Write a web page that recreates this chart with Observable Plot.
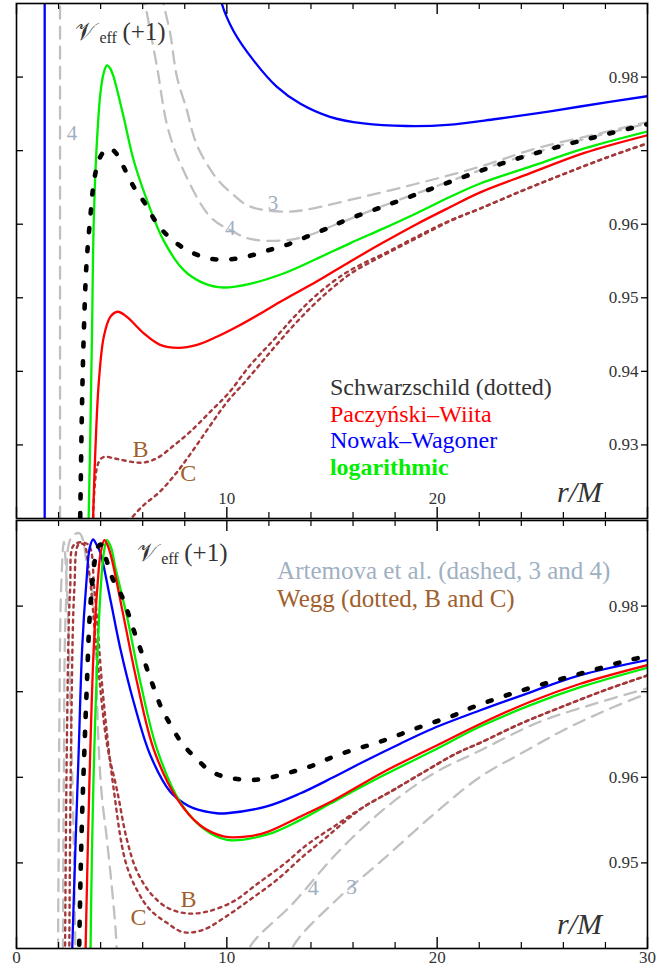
<!DOCTYPE html>
<html><head><meta charset="utf-8">
<script src="https://cdn.jsdelivr.net/npm/d3@7"></script>
<script src="https://cdn.jsdelivr.net/npm/@observablehq/plot@0.6"></script>
<style>
body{margin:0;background:#fff;}
#chart svg{display:block;}
</style></head><body><div id="chart"></div>
<script>
// ---------- axes / ticks ----------
const xDomain = [0, 30];
const xMajor = [0, 10, 20, 30];
const xMinor = [2, 4, 6, 8, 12, 14, 16, 18, 22, 24, 26, 28];
const topDomain = [0.92, 0.99];
const topYTicks = [0.93, 0.94, 0.95, 0.96, 0.97, 0.98];
const topYLabels = [0.93, 0.94, 0.95, 0.96, 0.98];
const topXLabels = [10, 20];
const botDomain = [0.94, 0.99];
const botYTicks = [0.95, 0.96, 0.97, 0.98];
const botYLabels = [0.95, 0.96, 0.98];
const botXLabels = [0, 10, 20, 30];

// ---------- top panel series [r/M, V_eff+1] ----------
const topSchwarzschild = [[3.0,0.915],[3.04,0.9221],[3.12,0.9361],[3.2,0.9452],[3.32,0.9542],[3.51,0.961],[3.67,0.9655],[3.91,0.9687],[4.2,0.97],[4.46,0.9703],[4.8,0.9694],[5.09,0.9678],[5.57,0.9651],[6.12,0.9628],[6.68,0.9601],[7.31,0.9581],[8.1,0.9565],[9.05,0.9554],[10.0,0.9552],[10.95,0.9556],[11.9,0.9564],[12.85,0.9572],[13.8,0.9583],[14.75,0.9594],[15.7,0.9606],[17.43,0.9624],[19.33,0.9644],[21.23,0.9664],[23.13,0.9683],[25.98,0.9707],[27.87,0.9721],[30,0.9736]];
const topPW = [[3.6,0.915],[3.64,0.92],[3.75,0.9293],[3.91,0.9384],[4.15,0.9447],[4.46,0.9474],[4.81,0.9481],[5.25,0.9474],[6.04,0.9452],[6.83,0.9436],[7.7,0.9432],[8.58,0.9436],[9.52,0.9447],[10.5,0.9461],[11.5,0.9477],[12.69,0.9497],[14.27,0.9522],[15.85,0.9549],[17.43,0.9575],[19.02,0.96],[20.6,0.9623],[22.02,0.9643],[24.4,0.9669],[27,0.9697],[30,0.9721]];
const topLog = [[3.4,0.915],[3.43,0.92],[3.51,0.9316],[3.59,0.9452],[3.67,0.96],[3.8,0.97],[3.99,0.9778],[4.15,0.9806],[4.3,0.9816],[4.45,0.9812],[4.62,0.98],[5.09,0.9746],[5.57,0.9687],[6.2,0.9633],[6.99,0.9578],[7.94,0.9538],[8.89,0.952],[9.84,0.9514],[11.1,0.9519],[12.69,0.9533],[14.27,0.9553],[15.85,0.9574],[17.43,0.9594],[19.02,0.9615],[20.6,0.9637],[22.02,0.9655],[24.4,0.9678],[27,0.9703],[30,0.9726]];
const topNWinner = [[1.34,0.995],[1.34,0.915]];
const topNWouter = [[9.6,0.9925],[9.76,0.99],[10.31,0.9863],[11.26,0.9823],[12.37,0.9787],[13.48,0.9764],[14.9,0.9746],[16.5,0.9737],[18.54,0.97335],[20.5,0.9735],[22.8,0.9743],[24.8,0.9751],[26.8,0.976],[30,0.9774]];
const topArt4inner = [[2.07,0.995],[2.07,0.915]];
const topArt4outer = [[6.05,0.9915],[6.12,0.99],[6.68,0.9814],[7.2,0.973],[7.94,0.9673],[9.21,0.961],[10.16,0.9592],[11.1,0.958],[12.69,0.9578],[13.8,0.9584],[15.22,0.96],[17.43,0.9625],[19.33,0.9645],[21.23,0.9665],[23.13,0.9684],[25.98,0.9708],[27.87,0.9722],[30,0.9737]];
const topArt3outer = [[6.9,0.9915],[6.99,0.99],[7.31,0.9859],[7.63,0.98],[8.1,0.9755],[8.34,0.9728],[8.65,0.9703],[9.52,0.9662],[10.31,0.964],[11.1,0.9624],[12.69,0.9617],[13.64,0.9619],[15.85,0.9633],[19.02,0.9655],[22.02,0.9678],[24.7,0.9703],[27.5,0.9722],[30,0.9739]];
const topWeggB = [[3.58,0.912],[3.62,0.918],[3.72,0.9245],[3.85,0.9272],[4.0,0.9281],[4.22,0.9284],[4.6,0.9282],[4.94,0.928],[5.57,0.92765],[6.04,0.9276],[6.68,0.9282],[7.47,0.9299],[8.26,0.9318],[9.21,0.9345],[10.1,0.9371],[11.1,0.9408],[12.2,0.9442],[13.2,0.9474],[14.27,0.9504],[15.5,0.9531],[16.5,0.9547],[17.4,0.9559],[19.02,0.9583],[20.6,0.9605],[22.02,0.9621],[24,0.9645],[26,0.9668],[28,0.969],[30,0.971]];
const topWeggC = [[5.3,0.9195],[6.0,0.9217],[6.8,0.9236],[7.6,0.9262],[8.4,0.9293],[9.2,0.9326],[10.0,0.9358],[11.0,0.939],[12.0,0.9424],[13.0,0.9457],[14.0,0.9487],[15.0,0.9513],[16.0,0.9535],[17.0,0.9551],[18.0,0.9566],[19.02,0.9581],[20.6,0.9604],[22.02,0.9621],[24,0.9645],[26,0.9668],[28,0.969],[30,0.971]];

// ---------- bottom panel series ----------
const botSchwarzschild = [[2.95,0.936],[3.04,0.9478],[3.12,0.9556],[3.23,0.9633],[3.35,0.9711],[3.48,0.9788],[3.67,0.9843],[3.85,0.9868],[4.0,0.9872],[4.3,0.9852],[4.62,0.9829],[5.0,0.9812],[5.25,0.9796],[5.57,0.9772],[5.89,0.975],[6.2,0.9727],[6.52,0.9705],[6.91,0.968],[7.31,0.9662],[7.86,0.964],[8.58,0.9621],[9.3,0.9606],[10.24,0.9599],[11.26,0.9597],[12.29,0.9601],[13.2,0.9607],[14.11,0.9614],[15.06,0.9624],[16.0,0.9632],[16.96,0.9639],[17.91,0.9647],[18.86,0.9656],[19.8,0.9664],[20.75,0.9672],[21.7,0.9682],[23.45,0.9697],[25.34,0.9711],[27.24,0.9724],[29.3,0.9738],[30,0.9741]];
const botPW = [[3.25,0.936],[3.39,0.9517],[3.51,0.9633],[3.67,0.975],[3.86,0.9827],[4.0,0.9862],[4.18,0.9877],[4.35,0.987],[4.54,0.9854],[5.09,0.9788],[5.73,0.9711],[6.52,0.9633],[7.63,0.9575],[8.73,0.9544],[9.84,0.9531],[11.0,0.9531],[11.9,0.9536],[13.48,0.9554],[15.06,0.9573],[17.43,0.9606],[19.8,0.9635],[22.02,0.9662],[24.4,0.9688],[26.77,0.9709],[30,0.9731]];
const botLog = [[3.5,0.936],[3.59,0.9517],[3.7,0.9633],[3.86,0.975],[4.02,0.9827],[4.15,0.9862],[4.3,0.9877],[4.5,0.9868],[4.7,0.9845],[5.25,0.9788],[5.89,0.9711],[6.68,0.9633],[7.78,0.9571],[8.89,0.954],[10.0,0.9527],[11.9,0.9533],[13.48,0.955],[14.9,0.9569],[17.43,0.9602],[19.8,0.9631],[22.02,0.9659],[24.4,0.9684],[26.77,0.9705],[30,0.9728]];
const botNW = [[2.6,0.936],[2.8,0.9517],[2.96,0.9633],[3.12,0.975],[3.32,0.9827],[3.48,0.9868],[3.64,0.9878],[3.8,0.9872],[3.99,0.9862],[4.46,0.9808],[4.94,0.975],[5.57,0.9688],[6.36,0.9626],[7.31,0.9583],[7.94,0.957],[8.41,0.9564],[9.52,0.9558],[10.0,0.9558],[11.9,0.9566],[13.48,0.9581],[15.06,0.96],[16.64,0.962],[18.22,0.9639],[19.8,0.9657],[22.02,0.9678],[24.4,0.9699],[26.77,0.9719],[30,0.9737]];
const botArt4inner = [[1.96,0.935],[2.0,0.95],[2.05,0.97],[2.12,0.982],[2.25,0.9875],[2.4,0.982],[2.55,0.97],[2.7,0.955],[2.8,0.94],[2.85,0.935]];
const botArt4outer = [[10.9,0.938],[11.1,0.9402],[13.16,0.9453],[15.22,0.9511],[17.43,0.9562],[19.8,0.9604],[22.02,0.9631],[24.79,0.9664],[27.5,0.9686],[30,0.9704]];
const botArt3inner = [[2.2,0.935],[2.25,0.96],[2.35,0.98],[2.6,0.988],[3.0,0.9885],[3.4,0.984],[3.6,0.982],[3.75,0.975],[3.9,0.964],[4.05,0.958],[4.3,0.9527],[4.54,0.947],[4.72,0.9419],[4.8,0.938]];
const botArt3outer = [[12.9,0.938],[13.16,0.9403],[15.22,0.9457],[17.43,0.9504],[19.8,0.9556],[22.02,0.96],[24,0.9628],[26,0.9655],[28,0.9678],[30,0.9698]];
const botWeggB = [[2.5,0.936],[2.6,0.965],[2.75,0.982],[2.95,0.9872],[3.2,0.9872],[3.45,0.984],[3.8,0.975],[4.3,0.9639],[4.78,0.9585],[5.25,0.9527],[5.73,0.949],[6.36,0.9465],[7.15,0.9448],[8.1,0.9441],[9.05,0.9443],[10.31,0.9455],[11.42,0.9475],[12.69,0.9498],[13.8,0.9521],[15.06,0.9542],[16.48,0.9565],[17.91,0.9585],[19.49,0.9608],[20.92,0.9628],[22.02,0.964],[24,0.9663],[26,0.9683],[28,0.9702],[30,0.9719]];
const botWeggC = [[2.3,0.936],[2.4,0.965],[2.55,0.982],[2.75,0.9872],[3.4,0.9872],[3.7,0.982],[4.1,0.97],[4.6,0.959],[5.2,0.95],[5.8,0.9465],[6.36,0.9445],[7.15,0.943],[7.94,0.9419],[8.89,0.9422],[10.0,0.9438],[11.1,0.9457],[12.37,0.948],[13.64,0.9508],[14.59,0.9527],[15.5,0.9546],[16.48,0.9565],[17.91,0.9585],[19.49,0.9608],[20.92,0.9628],[22.02,0.964],[24,0.9663],[26,0.9683],[28,0.9702],[30,0.9719]];

// ---------- styles ----------
const SERIF = "Liberation Serif";
const BLUE = "#0000ff", RED = "#ff0000", GREEN = "#00ee00";
const GRAY = "#c0c0c0", BROWN = "#a4383a", LABGRAY = "#9fb0c2", LABBROWN = "#a0602d";
const solid = c => ({stroke: c, strokeWidth: 2.3});
const blackDot = {stroke: "#000", strokeWidth: 4.6, strokeDasharray: "4,15", strokeLinecap: "round"};
const grayDash = {stroke: GRAY, strokeWidth: 2.3, strokeDasharray: "12,8"};
const brownDot = {stroke: BROWN, strokeWidth: 2.4, strokeDasharray: "3,4.5"};

function line(data, style) {
  return Plot.line(data, {x: d => d[0], y: d => d[1], curve: "catmull-rom", clip: true, ...style});
}

function axesMarks(innerH, yTicks, yLabels, xLabelsInside, xLabelsBelow) {
  const marks = [
    Plot.tickX(xMajor, {x: d => d, insetTop: innerH - 11, stroke: "#000", strokeWidth: 1.4}),
    Plot.tickX(xMajor, {x: d => d, insetBottom: innerH - 11, stroke: "#000", strokeWidth: 1.4}),
    Plot.tickX(xMinor, {x: d => d, insetTop: innerH - 6, stroke: "#000", strokeWidth: 1.2}),
    Plot.tickX(xMinor, {x: d => d, insetBottom: innerH - 6, stroke: "#000", strokeWidth: 1.2}),
    Plot.tickY(yTicks, {y: d => d, insetRight: 631 - 7, stroke: "#000", strokeWidth: 1.3}),
    Plot.tickY(yTicks, {y: d => d, insetLeft: 631 - 6, stroke: "#000", strokeWidth: 1.3}),
    Plot.text(yLabels, {y: d => d, frameAnchor: "right", dx: -9, textAnchor: "end", text: d => d.toFixed(2), fontSize: 17, fontFamily: SERIF, fill: "#333"})
  ];
  if (xLabelsInside) marks.push(Plot.text(xLabelsInside, {x: d => d, frameAnchor: "bottom", dy: -15, text: d => String(d), fontSize: 17, fontFamily: SERIF, fill: "#333"}));
  if (xLabelsBelow) marks.push(Plot.text(xLabelsBelow, {x: d => d, frameAnchor: "bottom", dy: 14, text: d => String(d), fontSize: 17, fontFamily: SERIF, fill: "#333",
      textAnchor: d => d === xDomain[0] ? "start" : d === xDomain[1] ? "end" : "middle"}));
  marks.push(Plot.frame({stroke: "#000", strokeWidth: 1.6}));
  return marks;
}

function veff(pos) {
  return [
    Plot.text([pos], {x: d => d[0], y: d => d[1], text: () => "𝒱", textAnchor: "start", fontSize: 25, fontFamily: "DejaVu Serif", fill: "#333"}),
    Plot.text([pos], {x: d => d[0], y: d => d[1], text: () => "eff", dx: 24, dy: 6, textAnchor: "start", fontSize: 16, fontFamily: SERIF, fill: "#333"}),
    Plot.text([pos], {x: d => d[0], y: d => d[1], text: () => "(+1)", dx: 47, textAnchor: "start", fontSize: 25, fontFamily: SERIF, fill: "#333"})
  ];
}

// ---------- top panel ----------
const topLabels4 = [[2.64, 0.9724, "4"], [10.16, 0.9595, "4"], [12.2, 0.9629, "3"]];
const topLabelsBC = [[5.89, 0.9294, "B"], [8.16, 0.9262, "C"]];
const legendTop = [
  [14.9, 0.9378, "Schwarzschild (dotted)", "#333"],
  [14.9, 0.9341, "Paczyński–Wiita", RED],
  [14.9, 0.9306, "Nowak–Wagoner", BLUE]
];
const legendTopBold = [[14.9, 0.9269, "logarithmic", GREEN]];
const topH = 519, topMT = 3, topMB = 1;
const topPlot = Plot.plot({
  width: 659, height: topH, marginLeft: 16, marginRight: 12, marginTop: topMT, marginBottom: topMB,
  x: {domain: xDomain, axis: null},
  y: {domain: topDomain, axis: null},
  style: {background: "#fff", overflow: "visible"},
  marks: [
    line(topArt4inner, grayDash),
    line(topArt4outer, grayDash),
    line(topArt3outer, grayDash),
    line(topWeggB, brownDot),
    line(topWeggC, brownDot),
    line(topNWinner, solid(BLUE)),
    line(topNWouter, solid(BLUE)),
    line(topPW, solid(RED)),
    line(topLog, solid(GREEN)),
    line(topSchwarzschild, blackDot),
    Plot.text(topLabels4, {x: d => d[0], y: d => d[1], text: d => d[2], fontSize: 21, fontFamily: SERIF, fill: LABGRAY}),
    Plot.text(topLabelsBC, {x: d => d[0], y: d => d[1], text: d => d[2], fontSize: 24, fontFamily: SERIF, fill: LABBROWN}),
    Plot.text(legendTop, {x: d => d[0], y: d => d[1], text: d => d[2], fill: d => d[3], textAnchor: "start", fontSize: 24, fontFamily: SERIF}),
    Plot.text(legendTopBold, {x: d => d[0], y: d => d[1], text: d => d[2], fill: d => d[3], textAnchor: "start", fontSize: 24, fontWeight: "bold", fontFamily: SERIF}),
    Plot.text([[26.77, 0.9235]], {x: d => d[0], y: d => d[1], text: () => "r/M", fontSize: 30, fontStyle: "italic", fontFamily: SERIF, fill: "#333"}),
    ...veff([2.8, 0.9861]),
    ...axesMarks(topH - topMT - topMB, topYTicks, topYLabels, topXLabels, null)
  ]
});

// ---------- bottom panel ----------
const botLabels34 = [[14.11, 0.9471, "4"], [15.93, 0.9472, "3"]];
const botLabelsBC = [[8.18, 0.9457, "B"], [5.8, 0.9436, "C"]];
const legendBot = [
  [12.39, 0.9841, "Artemova et al. (dashed, 3 and 4)", LABGRAY],
  [12.39, 0.9808, "Wegg (dotted, B and C)", LABBROWN]
];
const botH = 454, botMT = 1, botMB = 25;
const bottomPlot = Plot.plot({
  width: 659, height: botH, marginLeft: 16, marginRight: 12, marginTop: botMT, marginBottom: botMB,
  x: {domain: xDomain, axis: null},
  y: {domain: botDomain, axis: null},
  style: {background: "#fff", overflow: "visible"},
  marks: [
    line(botArt4inner, grayDash),
    line(botArt3inner, grayDash),
    line(botArt4outer, grayDash),
    line(botArt3outer, grayDash),
    line(botWeggB, brownDot),
    line(botWeggC, brownDot),
    line(botNW, solid(BLUE)),
    line(botLog, solid(GREEN)),
    line(botPW, solid(RED)),
    line(botSchwarzschild, blackDot),
    Plot.text(botLabels34, {x: d => d[0], y: d => d[1], text: d => d[2], fontSize: 22, fontFamily: SERIF, fill: LABGRAY}),
    Plot.text(botLabelsBC, {x: d => d[0], y: d => d[1], text: d => d[2], fontSize: 24, fontFamily: SERIF, fill: LABBROWN}),
    Plot.text(legendBot, {x: d => d[0], y: d => d[1], text: d => d[2], fill: d => d[3], textAnchor: "start", fontSize: 25, fontFamily: SERIF}),
    Plot.text([[26.77, 0.9428]], {x: d => d[0], y: d => d[1], text: () => "r/M", fontSize: 30, fontStyle: "italic", fontFamily: SERIF, fill: "#333"}),
    ...veff([5.74, 0.9862]),
    ...axesMarks(botH - botMT - botMB, botYTicks, botYLabels, null, botXLabels)
  ]
});

const chart = document.getElementById("chart");
chart.appendChild(topPlot);
chart.appendChild(bottomPlot);
</script>
</body></html>
